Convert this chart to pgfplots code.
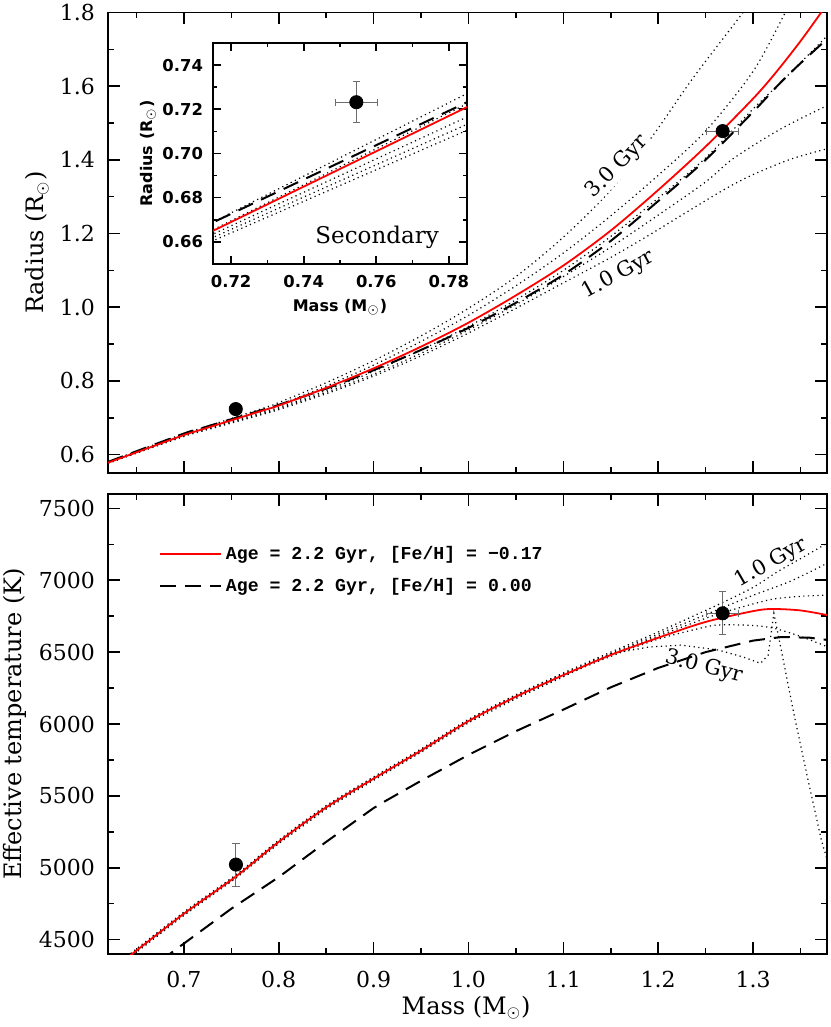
\documentclass[border=0pt]{standalone}
\usepackage{fontspec}
\usepackage{pgfplots}
\usepackage{pgfplotstable}
\pgfplotsset{compat=1.18}
\setmainfont{DejaVu Serif}
\setsansfont{DejaVu Sans}
\setmonofont{Liberation Mono}

% ---- radius vs mass (top panel and inset) ----
\pgfplotstableread{
m r
0.62 0.578
0.65 0.606
0.70 0.653
0.715 0.665
0.75 0.693
0.785 0.721
0.80 0.733
0.85 0.781
0.90 0.834
0.95 0.893
1.00 0.958
1.05 1.032
1.10 1.113
1.15 1.208
1.20 1.318
1.25 1.436
1.30 1.566
1.325 1.640
1.35 1.722
1.3705 1.795
1.38 1.830
}\rred
\pgfplotstableread{
m r
0.62 0.580
0.70 0.657
0.715 0.6688
0.785 0.7232
0.80 0.735
0.85 0.779
0.90 0.829
0.95 0.884
1.00 0.944
1.05 1.012
1.10 1.088
1.15 1.180
1.20 1.288
1.25 1.400
1.30 1.530
1.328 1.607
1.35 1.662
1.378 1.728
}\rzero
\pgfplotstableread{
m r
0.62 0.576
0.70 0.649
0.715 0.6605
0.785 0.7105
0.80 0.722
0.85 0.765
0.90 0.813
0.95 0.868
1.00 0.930
1.05 0.997
1.10 1.066
1.15 1.135
1.19 1.195
1.23 1.258
1.27 1.320
1.30 1.360
1.34 1.402
1.378 1.430
}\rten
\pgfplotstableread{
m r
0.62 0.577
0.70 0.651
0.715 0.662
0.785 0.7132
0.80 0.725
0.85 0.769
0.90 0.818
0.95 0.875
1.00 0.938
1.05 1.007
1.10 1.083
1.15 1.163
1.20 1.250
1.25 1.340
1.28 1.405
1.33 1.485
1.378 1.547
}\rfifteen
\pgfplotstableread{
m r
0.62 0.578
0.70 0.652
0.715 0.6635
0.785 0.7165
0.80 0.728
0.85 0.774
0.90 0.826
0.95 0.884
1.00 0.948
1.05 1.020
1.10 1.100
1.15 1.192
1.20 1.296
1.25 1.405
1.30 1.538
1.33 1.612
1.378 1.736
}\rtwenty
\pgfplotstableread{
m r
0.62 0.579
0.70 0.654
0.715 0.6655
0.785 0.7225
0.80 0.735
0.85 0.786
0.90 0.843
0.95 0.907
1.00 0.978
1.05 1.058
1.10 1.147
1.15 1.248
1.20 1.358
1.25 1.478
1.30 1.640
1.334 1.800
1.345 1.860
}\rtwentyfive
\pgfplotstableread{
m r
0.62 0.580
0.70 0.657
0.715 0.669
0.785 0.7271
0.80 0.741
0.85 0.795
0.90 0.855
0.95 0.922
1.00 0.997
1.05 1.083
1.10 1.190
1.15 1.318
1.195 1.468
1.237 1.623
1.2895 1.800
1.30 1.840
}\rthirty

% ---- effective temperature vs mass (bottom panel) ----
\pgfplotstableread{
m t
0.64 4372
0.70 4680
0.755 4940
0.80 5180
0.85 5420
0.90 5620
0.95 5815
1.00 6020
1.05 6190
1.10 6340
1.15 6480
1.20 6600
1.25 6710
1.30 6785
1.32 6800
1.35 6790
1.378 6758
}\tred
\pgfplotstableread{
m t
0.675 4350
0.685 4400
0.75 4715
0.80 4935
0.85 5180
0.90 5415
0.91 5455
0.95 5605
1.00 5785
1.05 5950
1.10 6100
1.15 6255
1.20 6390
1.25 6500
1.30 6580
1.33 6605
1.36 6600
1.378 6585
}\tzero
\pgfplotstableread{
m t
0.64 4384
0.70 4692
0.755 4952
0.80 5192
0.85 5432
0.90 5632
0.95 5827
1.00 6032
1.05 6203
1.10 6355
1.15 6500
1.20 6640
1.25 6790
1.268 6845
1.30 6950
1.326 7060
1.35 7150
1.378 7257
}\tten
\pgfplotstableread{
m t
0.64 4378
0.70 4686
0.755 4946
0.80 5186
0.85 5426
0.90 5626
0.95 5821
1.00 6026
1.05 6197
1.10 6348
1.15 6490
1.20 6625
1.25 6760
1.268 6810
1.30 6895
1.34 6995
1.378 7118
}\tfifteen
\pgfplotstableread{
m t
0.64 4372
0.70 4680
0.755 4940
0.80 5180
0.85 5420
0.90 5620
0.95 5815
1.00 6020
1.05 6191
1.10 6342
1.15 6482
1.20 6612
1.25 6735
1.268 6775
1.30 6835
1.322 6870
1.35 6888
1.378 6897
}\ttwenty
\pgfplotstableread{
m t
0.64 4366
0.70 4674
0.755 4934
0.80 5174
0.85 5414
0.90 5614
0.95 5809
1.00 6014
1.05 6184
1.10 6334
1.15 6470
1.20 6590
1.25 6675
1.268 6690
1.30 6685
1.322 6666
1.35 6610
1.378 6538
}\ttwentyfive
\pgfplotstableread{
m t
0.64 4360
0.70 4668
0.755 4928
0.80 5168
0.85 5408
0.90 5608
0.95 5803
1.00 6008
1.05 6176
1.10 6328
1.15 6488
1.19 6535
1.224 6549
1.263 6515
1.29 6465
1.308 6422
1.316 6480
1.322 6770
1.329 6540
1.343 6074
1.358 5611
1.372 5193
1.378 5060
}\tthirty

\pgfplotsset{
  starframe/.style={
    scale only axis,
    tick align=inside,
    tick pos=both,
    axis line style={line width=0.9pt},
    every tick/.style={black, line width=0.8pt},
    /pgf/number format/assume math mode=true,
  },
  iso/.style={black, line width=0.6pt, dash pattern=on 0.6pt off 1.75pt},
  sol/.style={red, line width=0.9pt},
  zsun/.style={black, line width=1pt, dash pattern=on 8pt off 4.5pt},
  obs/.style={only marks, mark=*, mark size=3.3pt, black,
    error bars/x dir=both, error bars/x explicit,
    error bars/y dir=both, error bars/y explicit,
    error bars/error bar style={gray!85!black, line width=0.5pt},
    error bars/error mark options={rotate=90, gray!85!black, line width=0.5pt, mark size=1.8pt}},
}

\begin{document}
\begin{tikzpicture}
\path[use as bounding box] (-54pt,-36.5pt) rectangle (361pt,477pt);

% ---------------- top: radius ----------------
\begin{axis}[starframe,
  at={(0pt,240.5pt)}, anchor=south west,
  width=359.5pt, height=230.25pt,
  xmin=0.62, xmax=1.378, ymin=0.55, ymax=1.8,
  xtick={0.7,0.8,0.9,1.0,1.1,1.2,1.3},
  minor xtick={0.65,0.75,0.85,0.95,1.05,1.15,1.25,1.35},
  xticklabels={},
  ytick={0.6,0.8,1.0,1.2,1.4,1.6,1.8},
  minor ytick={0.7,0.9,1.1,1.3,1.5,1.7},
  major tick length=6pt, minor tick length=3pt,
  yticklabel style={font=\fontsize{11}{13}\selectfont, xshift=-3pt,
    /pgf/number format/fixed, /pgf/number format/fixed zerofill,
    /pgf/number format/precision=1},
  ylabel={Radius (R$_\odot$)},
  ylabel style={at={(axis description cs:-0.0988,0.5)}, anchor=center,
    font=\fontsize{12}{14}\selectfont},
]
\addplot[iso, smooth] table {\rten};
\addplot[iso, smooth] table {\rfifteen};
\addplot[iso, smooth] table {\rtwenty};
\addplot[iso, smooth] table {\rtwentyfive};
\addplot[iso, smooth] table {\rthirty};
\addplot[zsun, smooth] table {\rzero};
\addplot[sol, smooth] table {\rred};
\addplot[obs] coordinates {(0.7547,0.7235) +- (0.006,0.009) (1.268,1.478) +- (0.017,0.012)};
\node[font=\fontsize{10.5}{12}\selectfont, rotate=46, fill=white, inner sep=0.5pt]
  at (axis cs:1.157,1.381) {3.0 Gyr};
\node[font=\fontsize{10.5}{12}\selectfont, rotate=29]
  at (axis cs:1.158,1.088) {1.0 Gyr};
\end{axis}

% ---------------- inset: secondary ----------------
\begin{axis}[starframe,
  at={(52.5pt,345pt)}, anchor=south west,
  width=127pt, height=110.5pt,
  axis background/.style={fill=white},
  xmin=0.715, xmax=0.785, ymin=0.65, ymax=0.75,
  xtick={0.72,0.74,0.76,0.78}, minor xtick={0.73,0.75,0.77},
  ytick={0.66,0.68,0.70,0.72,0.74}, minor ytick={0.67,0.69,0.71,0.73},
  major tick length=4pt, minor tick length=2pt,
  tick label style={font=\sffamily\bfseries\fontsize{8.2}{10}\selectfont,
    /pgf/number format/fixed, /pgf/number format/fixed zerofill,
    /pgf/number format/precision=2},
  xticklabel style={yshift=-2pt},
  yticklabel style={xshift=-1.5pt},
  xlabel={Mass (M$_\odot$)}, ylabel={Radius (R$_\odot$)},
  label style={font=\sffamily\bfseries\fontsize{8}{10}\selectfont},
  xlabel style={at={(axis description cs:0.5,-0.195)}, anchor=center},
  ylabel style={at={(axis description cs:-0.256,0.5)}, anchor=center},
]
\addplot[iso] table {\rten};
\addplot[iso] table {\rfifteen};
\addplot[iso] table {\rtwenty};
\addplot[iso] table {\rtwentyfive};
\addplot[iso] table {\rthirty};
\addplot[zsun] table {\rzero};
\addplot[sol] table {\rred};
\addplot[obs] coordinates {(0.7545,0.7232) +- (0.0057,0.0092)};
\node[font=\fontsize{11.5}{13}\selectfont] at (axis description cs:0.646,0.122) {Secondary};
\end{axis}

% ---------------- bottom: effective temperature ----------------
\begin{axis}[starframe,
  at={(0pt,0pt)}, anchor=south west,
  width=359.5pt, height=230pt,
  xmin=0.62, xmax=1.378, ymin=4400, ymax=7600,
  xtick={0.7,0.8,0.9,1.0,1.1,1.2,1.3},
  minor xtick={0.65,0.75,0.85,0.95,1.05,1.15,1.25,1.35},
  ytick={4500,5000,5500,6000,6500,7000,7500},
  minor ytick={4750,5250,5750,6250,6750,7250},
  scaled y ticks=false,
  major tick length=6pt, minor tick length=3pt,
  tick label style={font=\fontsize{11}{13}\selectfont},
  xticklabel style={yshift=-5pt,
    /pgf/number format/fixed, /pgf/number format/fixed zerofill,
    /pgf/number format/precision=1},
  yticklabel style={xshift=-3pt, /pgf/number format/1000 sep={}},
  xlabel={Mass (M$_\odot$)},
  ylabel={Effective temperature (K)},
  label style={font=\fontsize{12}{14}\selectfont},
  xlabel style={at={(axis description cs:0.498,-0.117)}, anchor=center},
  ylabel style={at={(axis description cs:-0.129,0.5)}, anchor=center},
  legend style={at={(axis description cs:0.062,0.905)}, anchor=north west,
    draw=none, fill=none, row sep=4pt,
    font=\ttfamily\bfseries\fontsize{9.1}{11}\selectfont},
  legend cell align=left,
  reverse legend,
  legend image code/.code={\draw[#1] (0pt,0pt) -- (30.5pt,0pt);},
]
\addplot[iso, smooth, forget plot] table {\tten};
\addplot[iso, smooth, forget plot] table {\tfifteen};
\addplot[iso, smooth, forget plot] table {\ttwenty};
\addplot[iso, smooth, forget plot] table {\ttwentyfive};
\addplot[iso, forget plot] table {\tthirty};
\addplot[zsun] table {\tzero};
\addlegendentry{Age = 2.2 Gyr, [Fe/H] = 0.00}
\addplot[sol, smooth] table {\tred};
\addlegendentry{Age = 2.2 Gyr, [Fe/H] = −0.17}
\addplot[obs, forget plot] coordinates {(0.7549,5022) +- (0.006,150) (1.268,6770) +- (0.017,150)};
\node[font=\fontsize{10.5}{12}\selectfont, rotate=30]
  at (axis cs:1.319,7120) {1.0 Gyr};
\node[font=\fontsize{10.5}{12}\selectfont, rotate=-14]
  at (axis cs:1.248,6396) {3.0 Gyr};
\end{axis}
\end{tikzpicture}
\end{document}
